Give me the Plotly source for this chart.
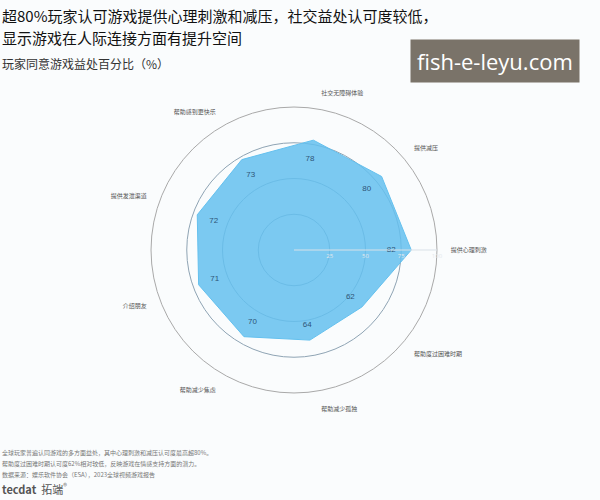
import plotly.graph_objects as go

categories = ["提供心理刺激", "提供减压", "社交无障碍体验", "帮助感到更快乐", "提供发泄渠道",
              "介绍朋友", "帮助减少焦虑", "帮助减少孤独", "帮助度过困难时期"]
values = [82, 80, 78, 73, 72, 71, 70, 64, 62]
radial_ticks = [25, 50, 75, 100]

title_lines = ["超80%玩家认可游戏提供心理刺激和减压，社交益处认可度较低，",
               "显示游戏在人际连接方面有提升空间"]
subtitle = "玩家同意游戏益处百分比（%）"
footer_lines = ["全球玩家普遍认同游戏的多方面益处，其中心理刺激和减压认可度最高超80%。",
                "帮助度过困难时期认可度62%相对较低，反映游戏在情感支持方面的潜力。",
                "数据来源：娱乐软件协会（ESA），2023全球视频游戏报告"]

FONT = "Noto Sans CJK SC"

fig = go.Figure()
fig.add_trace(go.Scatterpolar(
    r=values + values[:1], theta=categories + categories[:1],
    mode="lines", fill="toself",
    fillcolor="rgba(100,192,238,0.85)",
    line=dict(color="rgba(100,192,238,1)", width=1),
    hoverinfo="skip", showlegend=False))
fig.add_trace(go.Scatterpolar(
    r=[v * 0.83 for v in values], theta=categories,
    mode="text", text=[str(v) for v in values],
    textfont=dict(family="Liberation Sans", size=8, color="#2f5577"),
    showlegend=False))

fig.update_layout(
    width=600, height=500,
    margin=dict(l=0, r=0, t=0, b=0),
    paper_bgcolor="#fafcfd",
    polar=dict(
        domain=dict(x=[0.2517, 0.7283], y=[0.214, 0.786]),
        bgcolor="rgba(0,0,0,0)",
        radialaxis=dict(range=[0, 100], tickvals=radial_ticks, angle=0,
                        showticklabels=True, tickfont=dict(size=6, color="#e4e8ec"),
                        gridcolor="#8fa4b4", gridwidth=1, showline=True,
                        linecolor="#d9e1e8", linewidth=1, ticks="", layer="above traces"),
        angularaxis=dict(categoryarray=categories, direction="counterclockwise", rotation=0,
                         showgrid=False, showline=True, linecolor="#a9a9a9", linewidth=1,
                         ticks="outside", ticklen=12, tickcolor="rgba(0,0,0,0)",
                         tickfont=dict(family=FONT, size=6, color="#555555"),
                         layer="above traces"),
    ),
)

annotations = [
    dict(text=title_lines[0], x=0, y=1, xref="paper", yref="paper", xanchor="left", yanchor="top",
         yshift=-3, showarrow=False, font=dict(family=FONT, size=15, color="#111111")),
    dict(text=title_lines[1], x=0, y=1, xref="paper", yref="paper", xanchor="left", yanchor="top",
         yshift=-25, showarrow=False, font=dict(family=FONT, size=15, color="#111111")),
    dict(text=subtitle, x=0, y=1, xref="paper", yref="paper", xanchor="left", yanchor="top",
         yshift=-53, showarrow=False, font=dict(family=FONT, size=12, color="#333333")),
    dict(text="fish-e-leyu.com", x=0.825, y=0.878, xref="paper", yref="paper",
         xanchor="center", yanchor="middle", showarrow=False, bgcolor="#7a7369",
         borderpad=6, font=dict(family="Open Sans", size=22, color="#ffffff")),
    dict(text="<b>tecdat</b>  拓端<sup>®</sup>", x=0.0, y=0.024, xref="paper", yref="paper",
         xanchor="left", yanchor="middle", showarrow=False,
         font=dict(family=FONT, size=11, color="#555555")),
]
for i, line in enumerate(footer_lines):
    annotations.append(dict(text=line, x=0, y=0, xref="paper", yref="paper",
                            xanchor="left", yanchor="middle", yshift=48 - i * 11,
                            showarrow=False, font=dict(family=FONT, size=6, color="#777777")))
fig.update_layout(annotations=annotations)

fig.write_html("out.html", config={"displayModeBar": False},
               post_script="document.body.style.margin='0';")
